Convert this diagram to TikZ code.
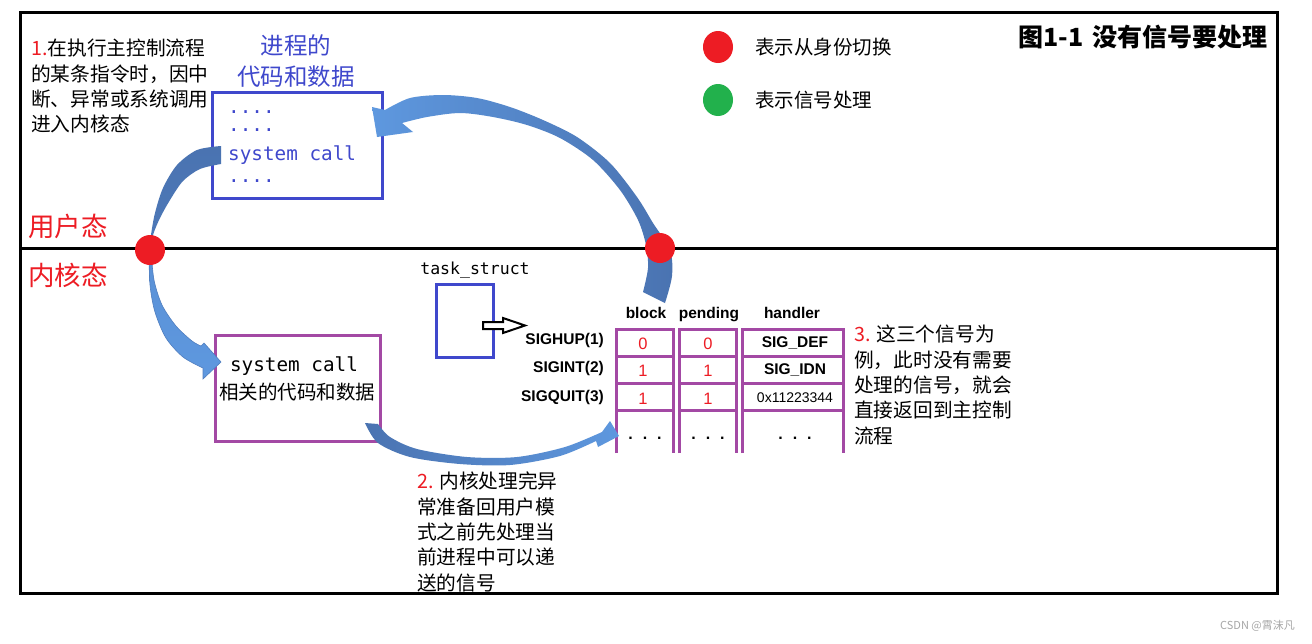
\documentclass[tikz,border=0pt]{standalone}
\usepackage{fontspec}
\setmainfont{Liberation Sans}
\newfontfamily\cjk{Noto Sans CJK SC}
\newfontfamily\mono{DejaVu Sans Mono}
\definecolor{ured}{HTML}{ED1C24}
\definecolor{ugreen}{HTML}{22B14C}
\definecolor{ublue}{HTML}{3F48CC}
\definecolor{upurple}{HTML}{A349A4}
\definecolor{adark}{HTML}{4A73B1}
\definecolor{alight}{HTML}{5E98DF}
\tikzset{
  frameline/.style={line width=3pt, black},
  bluebox/.style={draw=ublue, line width=3pt},
  purplebox/.style={draw=upurple, line width=3pt},
  cell/.style={draw=upurple, line width=3pt},
  txt/.style={font=\cjk\fontsize{19.7}{25.3}\selectfont, align=left, inner sep=0pt, anchor=north west},
  sig/.style={font=\bfseries\fontsize{15.5}{16}\selectfont, inner sep=0pt},
  val/.style={font=\fontsize{16.5}{17}\selectfont, text=ured, inner sep=0pt},
  hdr/.style={font=\bfseries\fontsize{15.5}{16}\selectfont, inner sep=0pt, anchor=base},
  dotrow/.style={font=\bfseries\fontsize{16}{16}\selectfont, inner sep=0pt},
  swdot/.style={fill=ured},
}
\begin{document}
\begin{tikzpicture}[x=1pt,y=-1pt]
\useasboundingbox (0,0) rectangle (1312,643);
\fill[white] (0,0) rectangle (1312,643);

% frame and divider
\draw[frameline] (20,12) rectangle (1277,593);
\coordinate (divL) at (20,248);
\coordinate (divR) at (1277,248);
\draw[frameline] (divL) -- (divR);

% mode labels
\node[font=\cjk\fontsize{26.5}{26}\selectfont, text=ured, inner sep=0pt] (user) at (68,226) {用户态};
\node[font=\cjk\fontsize{26.5}{26}\selectfont, text=ured, inner sep=0pt] (kernel) at (68,275) {内核态};

% text 1
\node[txt] (t1) at (31,39) {\textcolor{ured}{1.}在执行主控制流程\\的某条指令时，因中\\断、异常或系统调用\\进入内核态};

% process code title
\node[font=\cjk\fontsize{23.5}{31}\selectfont, text=ublue, align=center, inner sep=0pt] (ptitle) at (296,61) {进程的\\代码和数据};

% user code box
\draw[bluebox] (212,92) rectangle (382,198);
\node[font=\mono\fontsize{19.3}{20}\selectfont, text=ublue, anchor=base west, inner sep=0pt] (d1) at (228,113) {....};
\node[font=\mono\fontsize{19.3}{20}\selectfont, text=ublue, anchor=base west, inner sep=0pt] (d2) at (228,131) {....};
\node[font=\mono\fontsize{19.3}{20}\selectfont, text=ublue, anchor=base west, inner sep=0pt] (sc1) at (228,160) {system call};
\node[font=\mono\fontsize{19.3}{20}\selectfont, text=ublue, anchor=base west, inner sep=0pt] (d3) at (228,182) {....};

% legend
\fill[ured] (718,47) ellipse [x radius=15, y radius=16];
\node[font=\cjk\fontsize{19.5}{20}\selectfont, anchor=west, inner sep=0pt] (lg1) at (755,47) {表示从身份切换};
\fill[ugreen] (718,100) ellipse [x radius=15, y radius=16];
\node[font=\cjk\fontsize{19.5}{20}\selectfont, anchor=west, inner sep=0pt] (lg2) at (755,100) {表示信号处理};

% title
\node[font=\cjk\bfseries\fontsize{25}{25}\selectfont, anchor=west, inner sep=0pt] (title) at (1018,37) {图1-1\hspace{9pt}没有信号要处理};

% kernel code box
\draw[purplebox] (215,335) rectangle (380,441);
\node[font=\mono\fontsize{19.3}{20}\selectfont, inner sep=0pt] (sc2) at (294,366) {system call};
\node[font=\cjk\fontsize{19.5}{20}\selectfont, inner sep=0pt] (kcode) at (297,392) {相关的代码和数据};

% task_struct
\node[font=\mono\fontsize{16.5}{17}\selectfont, inner sep=0pt] (tslabel) at (475,270) {task\_struct};
\draw[bluebox] (436,284) rectangle (493,357);
\draw[line width=2pt, fill=white, line join=miter] (483,322) -- (503,322) -- (503,318) -- (525,325.5) -- (503,333) -- (503,329) -- (483,329) -- cycle;

% signal names
\node[sig, anchor=east] (s1) at (604,340) {SIGHUP(1)};
\node[sig, anchor=east] (s2) at (604,368) {SIGINT(2)};
\node[sig, anchor=east] (s3) at (604,397) {SIGQUIT(3)};

% headers
\node[hdr] (hb) at (646,318) {block};
\node[hdr] (hp) at (709,318) {pending};
\node[hdr] (hh) at (792,318) {handler};

% table
\foreach \xa/\xb in {616/673, 679/736, 742/843}{
  \draw[cell] (\xa,453) -- (\xa,329) -- (\xb,329) -- (\xb,453);
  \draw[cell] (\xa,356) -- (\xb,356);
  \draw[cell] (\xa,383) -- (\xb,383);
  \draw[cell] (\xa,410) -- (\xb,410);
}
\node[val] (b1) at (643,344) {0};
\node[val] (b2) at (643,371) {1};
\node[val] (b3) at (643,399) {1};
\node[val] (p1) at (708,344) {0};
\node[val] (p2) at (708,371) {1};
\node[val] (p3) at (708,399) {1};
\node[sig] (h1) at (795,343) {SIG\_DEF};
\node[sig] (h2) at (795,370) {SIG\_IDN};
\node[font=\fontsize{14}{14}\selectfont, inner sep=0pt] (h3) at (795,398) {0x11223344};
\node[dotrow] (e1) at (645,438) {.\hspace{10pt}.\hspace{10pt}.};
\node[dotrow] (e2) at (708,438) {.\hspace{10pt}.\hspace{10pt}.};
\node[dotrow] (e3) at (795,438) {.\hspace{10pt}.\hspace{10pt}.};

% text 3
\node[txt] (t3) at (854,325) {\textcolor{ured}{3.} 这三个信号为\\例，此时没有需要\\处理的信号，就会\\直接返回到主控制\\流程};

% text 2
\node[txt] (t2) at (417,472) {\textcolor{ured}{2.} 内核处理完异\\常准备回用户模\\式之前先处理当\\前进程中可以递\\送的信号};

% arrows
% top-right arrow: kernel -> user code
\shade[left color=alight, right color=adark]
  (372,107) -- (377,137) -- (413,132) -- (402,123)
  -- plot[smooth] coordinates {(402,123) (427,117) (460,113) (493,117) (527,125) (560,138) (593,160) (620,190) (638,220) (646,245) (648,268) (643,292)}
  -- (665,303)
  -- plot[smooth] coordinates {(665,303) (672,276) (670,250) (653,223) (637,197) (610,163) (577,137) (543,120) (510,107) (477,98) (443,95) (410,98) (385,110)}
  -- cycle;
% left upper piece
\shade[top color=adark, bottom color=adark!85!alight]
  plot[smooth] coordinates {(221,146) (197,150) (177,165) (163,188) (155,213) (151,235) (150,250)}
  -- plot[smooth] coordinates {(151,250) (153,235) (160,218) (170,200) (183,181) (200,169) (221,164)}
  -- cycle;
% left lower piece
\shade[top color=alight!80!adark, bottom color=alight, draw=adark!70!alight, line width=0.6pt]
  plot[smooth] coordinates {(151,250) (154,280) (162,305) (176,326) (192,341) (201,346)}
  -- (204,343) -- (221,362) -- (203,379) -- (203,368)
  -- plot[smooth] coordinates {(203,368) (183,357) (166,338) (155,312) (150,285) (149,252)}
  -- cycle;
% bottom arrow
\shade[left color=adark, right color=alight]
  (365,423) -- (378,424)
  -- plot[smooth] coordinates {(378,424) (390,437) (417,449) (467,457) (517,457) (565,447) (602,432)}
  -- (610,421) -- (619,436) -- (598,447) -- (596,441)
  -- plot[smooth] coordinates {(596,441) (560,456) (510,465) (460,464) (410,457) (378,443) (365,423)}
  -- cycle;

% switch circles
\fill[swdot] (150,250) circle (15);
\fill[swdot] (660,248) circle (15);

% watermark
\node[font=\cjk\fontsize{11}{12}\selectfont, text=gray!70, anchor=east, inner sep=0pt] (wm) at (1295,626) {CSDN @霄沫凡};
\end{tikzpicture}
\end{document}
